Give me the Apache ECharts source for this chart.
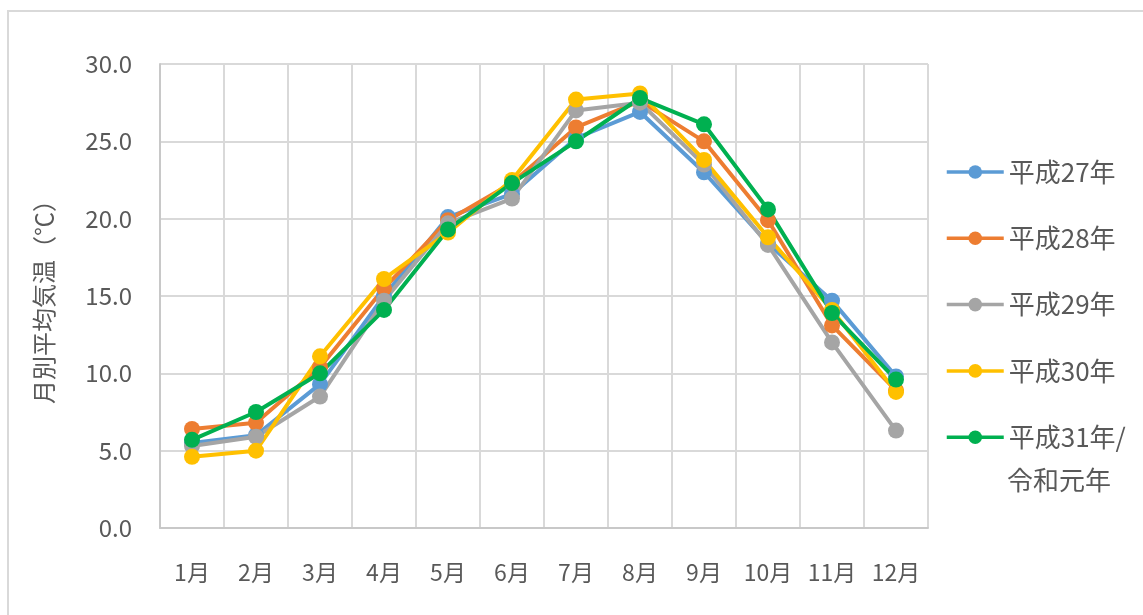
<!DOCTYPE html>
<html>
<head>
<meta charset="utf-8">
<script src="https://cdn.jsdelivr.net/npm/echarts@6/dist/echarts.min.js"></script>
<style>
  html, body { margin: 0; padding: 0; background: #fff; }
  #chart { width: 1143px; height: 615px; }
</style>
</head>
<body>
<div id="chart"></div>
<script>
const months = ['1月', '2月', '3月', '4月', '5月', '6月', '7月', '8月', '9月', '10月', '11月', '12月']
const yTicks = [0, 30, 5] // min, max, interval

const h27 = [5.5, 6.0, 9.3, 15.0, 20.1, 21.6, 25.2, 26.9, 23.0, 18.4, 14.7, 9.8]
const h28 = [6.4, 6.8, 10.4, 15.5, 19.9, 22.3, 25.9, 27.6, 25.0, 19.9, 13.1, 8.9]
const h29 = [5.3, 5.9, 8.5, 14.7, 19.7, 21.3, 27.0, 27.5, 23.5, 18.3, 12.0, 6.3]
const h30 = [4.6, 5.0, 11.1, 16.1, 19.1, 22.5, 27.7, 28.1, 23.8, 18.8, 14.1, 8.8]
const h31 = [5.7, 7.5, 10.0, 14.1, 19.3, 22.3, 25.0, 27.8, 26.1, 20.6, 13.9, 9.6]

const seriesNames = ['平成27年', '平成28年', '平成29年', '平成30年', '平成31年/令和元年']
const seriesData = [h27, h28, h29, h30, h31]
const colors = ['#5B9BD5', '#ED7D31', '#A5A5A5', '#FFC000', '#00B050']

const font = '"Noto Sans CJK JP", "Noto Sans", sans-serif'
const textColor = '#595959'

const chart = echarts.init(document.getElementById('chart'))

chart.setOption({
  animation: false,
  color: colors,
  textStyle: { fontFamily: font },
  grid: { left: 160, right: 215, top: 64, bottom: 87 },
  legend: {
    orient: 'vertical',
    left: 940,
    top: 151,
    itemWidth: 57,
    itemHeight: 17,
    itemGap: 34.3,
    lineStyle: { width: 3.5 },
    textStyle: { color: textColor, fontSize: 26, lineHeight: 32, fontFamily: font },
    formatter: name => name === '平成31年/令和元年' ? '平成31年/' : name,
    data: seriesNames
  },
  graphic: [
    {
      type: 'rect',
      shape: { x: 8, y: 11, width: 1150, height: 620 },
      style: { fill: 'none', stroke: '#D9D9D9', lineWidth: 2 },
      silent: true
    },
    {
      type: 'text',
      left: 1007,
      top: 467,
      style: { text: '令和元年', fill: textColor, fontSize: 26, fontFamily: font }
    }
  ],
  xAxis: {
    type: 'category',
    data: months,
    boundaryGap: true,
    axisLine: { lineStyle: { color: '#C8C8C8', width: 2 } },
    axisTick: { show: false, interval: 0 },
    splitLine: { show: true, interval: 0, lineStyle: { color: '#D9D9D9', width: 2 } },
    axisLabel: { color: textColor, fontSize: 23, margin: 33, interval: 0, fontFamily: font }
  },
  yAxis: {
    type: 'value',
    min: yTicks[0],
    max: yTicks[1],
    interval: yTicks[2],
    name: '月別平均気温（℃）',
    nameLocation: 'middle',
    nameRotate: 90,
    nameGap: 104,
    nameTextStyle: { color: textColor, fontSize: 24, fontFamily: font },
    axisLine: { show: true, lineStyle: { color: '#C8C8C8', width: 2 } },
    axisTick: { show: false },
    splitLine: { lineStyle: { color: '#D9D9D9', width: 2 } },
    axisLabel: {
      color: textColor,
      fontSize: 24,
      margin: 28,
      fontFamily: font,
      formatter: v => v.toFixed(1)
    }
  },
  series: seriesNames.map((name, i) => ({
    name,
    type: 'line',
    data: seriesData[i],
    symbol: 'circle',
    symbolSize: 16,
    lineStyle: { width: 4, color: colors[i] },
    itemStyle: { color: colors[i] }
  }))
})
</script>
</body>
</html>
